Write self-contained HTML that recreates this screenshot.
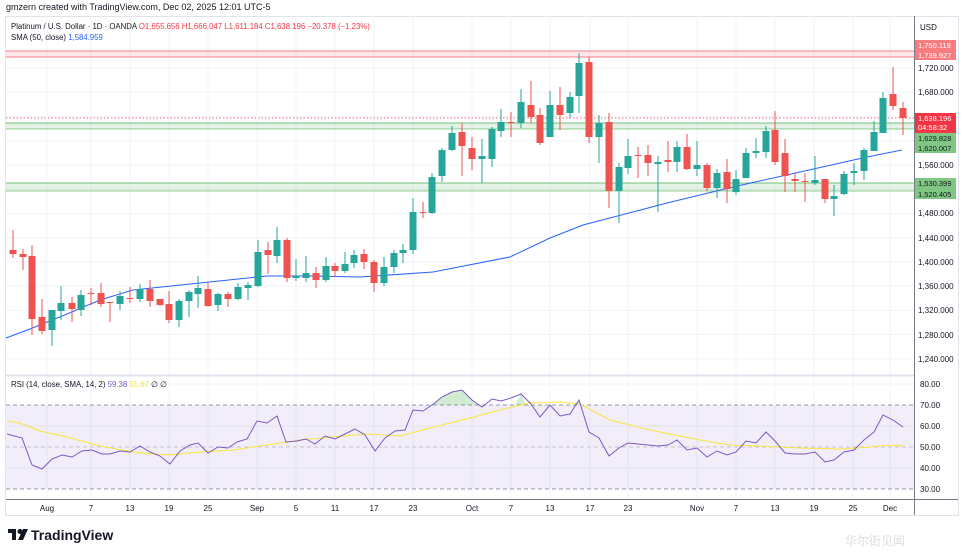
<!DOCTYPE html>
<html><head><meta charset="utf-8"><style>
body{margin:0;background:#fff;width:964px;height:556px;overflow:hidden;font-family:"Liberation Sans",sans-serif}
svg{position:absolute;left:0;top:0}
</style></head><body>
<svg id="s" width="964" height="556" viewBox="0 0 964 556" xmlns="http://www.w3.org/2000/svg" font-family="Liberation Sans, sans-serif">
<rect x="0" y="0" width="964" height="556" fill="#fff"/>
<text x="6" y="10" font-size="9" fill="#131722">gmzern created with TradingView.com, Dec 02, 2025 12:01 UTC-5</text>
<rect x="5.5" y="16.5" width="953" height="499" fill="none" stroke="#e0e3eb"/>
<g id="grid"></g>
<rect x="6" y="405" width="908" height="84" fill="#7e57c2" fill-opacity="0.1"/>
<g stroke="#787b86" stroke-dasharray="4,3" stroke-width="0.8">
<line x1="6" y1="405" x2="914" y2="405"/><line x1="6" y1="447" x2="914" y2="447" stroke-opacity="0.5"/><line x1="6" y1="489" x2="914" y2="489"/>
</g>
<rect x="6" y="51" width="908" height="6" fill="#f23645" fill-opacity="0.12"/>
<line x1="6" y1="51" x2="914" y2="51" stroke="#f23645" stroke-opacity="0.6"/>
<line x1="6" y1="57" x2="914" y2="57" stroke="#f23645" stroke-opacity="0.6"/>
<rect x="6" y="123" width="908" height="6" fill="#4caf50" fill-opacity="0.15"/>
<line x1="6" y1="123" x2="914" y2="123" stroke="#4caf50" stroke-opacity="0.6" stroke-width="1.2"/>
<line x1="6" y1="129" x2="914" y2="129" stroke="#4caf50" stroke-opacity="0.6"/>
<rect x="6" y="183" width="908" height="8" fill="#4caf50" fill-opacity="0.15"/>
<line x1="6" y1="183" x2="914" y2="183" stroke="#4caf50" stroke-opacity="0.6" stroke-width="1.2"/>
<line x1="6" y1="191" x2="914" y2="191" stroke="#4caf50" stroke-opacity="0.6"/>
<line x1="6" y1="118" x2="914" y2="118" stroke="#f23645" stroke-dasharray="1.5,2" stroke-width="0.8"/>
<polyline fill="none" stroke="#2962ff" stroke-width="1" points="6,338 30,329 67,314 100,300 133,290 200,283 267,276 310,276 360,277 433,272 510,257 550,238 583,225 610,218 667,203 733,187 800,172 867,157 902,150"/>
<g id="candles"></g>
<polygon fill="#4caf50" fill-opacity="0.25" points="432,405 442,397 452,392 462,390 472,400 477,405"/>
<polygon fill="#4caf50" fill-opacity="0.25" points="515,405 521,394 526,405"/>
<polygon fill="#4caf50" fill-opacity="0.25" points="574,405 579,400 581,405"/>
<polyline fill="none" stroke="#f7e63b" stroke-width="1" points="7,421 20,423 40,431 67,437 100,446 133,452 167,455 200,452 233,450 267,445 300,440 333,437 367,434 400,436 430,428 470,418 500,410 530,403 560,402 580,404 610,420 650,430 700,440 730,445 760,446 800,448 840,449 870,447 890,445 903,446"/>
<polyline fill="none" stroke="#7e57c2" stroke-width="1" points="7,434 22,438 32,465 42,469 52,459 62,455 72,457 82,451 92,450 102,454 110,454 120,451 130,452 140,446 150,452 160,456 170,464 180,451 190,445 198,443 208,453 218,447 228,448 237,442 247,439 257,421 267,423 277,416 286,442 297,441 306,439 315,444 325,436 335,439 345,434 355,429 365,435 375,451 385,438 395,431 405,430 413,410 423,411 432,405 442,397 452,392 462,390 472,400 482,407 492,399 501,401 511,398 521,394 531,404 540,417 550,405 560,416 570,414 579,400 589,432 599,438 609,456 619,448 628,443 638,444 648,445 658,446 668,445 677,440 687,450 697,448 707,457 717,451 727,455 736,452 746,441 756,443 766,432 775,441 785,453 795,454 805,454 815,452 825,462 834,460 844,452 854,450 864,440 874,432 883,415 893,420 903,427"/>
<line x1="6" y1="375.5" x2="914" y2="375.5" stroke="#e0e3eb" stroke-width="2"/>
<line x1="6" y1="499.5" x2="958" y2="499.5" stroke="#787b86" stroke-width="1"/>
<line x1="914.5" y1="16" x2="914.5" y2="515" stroke="#787b86" stroke-width="1"/>
<text x="11" y="29" font-size="7.8" fill="#131722">Platinum / U.S. Dollar · 1D · OANDA <tspan fill="#f23645">O1,655.656</tspan>  <tspan fill="#f23645">H1,666.047</tspan>  <tspan fill="#f23645">L1,611.184</tspan>  <tspan fill="#f23645">C1,638.196</tspan>  <tspan fill="#f23645">−20.378 (−1.23%)</tspan></text>
<text x="11" y="40" font-size="7.8" fill="#131722">SMA (50, close) <tspan fill="#2962ff">1,584.959</tspan></text>
<text x="11" y="387" font-size="7.8" fill="#131722">RSI (14, close, SMA, 14, 2) <tspan fill="#7e57c2">59.38</tspan> <tspan fill="#f7e63b">51.67</tspan> ∅ ∅</text>
<text x="920" y="30" font-size="8" fill="#131722">USD</text>
<g id="axis" font-size="8" fill="#131722"></g>
<g id="time" font-size="8" fill="#131722" text-anchor="middle"></g>
<g transform="translate(8,529)" fill="#131722">
<rect x="0" y="0" width="8" height="4"/><rect x="4" y="0" width="4" height="11"/>
<circle cx="12" cy="2.5" r="2.5"/><polygon points="15,0 20,0 15,11 10,11"/>
<text x="23" y="11" font-size="14" font-weight="bold">TradingView</text>
</g>
<text x="905" y="545" font-size="12" fill="#ddd" text-anchor="end">华尔街见闻</text>
</svg>
<script>
var NS="http://www.w3.org/2000/svg";
function el(p,t,a,txt){var e=document.createElementNS(NS,t);for(var k in a)e.setAttribute(k,a[k]);if(txt!=null)e.textContent=txt;document.getElementById(p).appendChild(e);return e;}
var vx=[47,91,130,169,208,257,296,335,374,413,472,511,550,590,628,697,736,775,814,853,890];
vx.forEach(function(x){el("grid","line",{x1:x,y1:16,x2:x,y2:499,stroke:"#f0f3fa"});});
[1720,1680,1640,1600,1560,1520,1480,1440,1400,1360,1320,1280,1240].forEach(function(p){var y=68+(1720-p)*0.606;el("grid","line",{x1:6,y1:y,x2:914,y2:y,stroke:"#f0f3fa"});});
[384,426,468].forEach(function(y){el("grid","line",{x1:6,y1:y,x2:914,y2:y,stroke:"#f0f3fa"});});
var C=[[13,250,254,230,258],[23,254,257,249,270],[32,256,319,245,335],[42,317,331,299,334],[52,330,310,310,346],[61,311,303,286,320],[72,303,309,297,322],[81,310,295,290,316],[91,293,294,288,305],[101,293,304,283,307],[110,302,303,302,322],[120,304,296,291,310],[130,298,299,287,303],[140,299,289,284,302],[150,289,301,280,307],[160,299,305,299,306],[169,304,320,291,323],[179,320,301,299,327],[189,301,292,290,317],[198,294,288,276,308],[208,289,306,283,307],[218,305,294,293,311],[228,294,299,292,307],[238,299,287,283,300],[248,288,285,282,300],[258,286,252,240,287],[268,250,255,242,274],[277,256,240,227,263],[287,240,278,238,282],[296,278,276,259,281],[306,278,273,256,282],[316,273,280,267,288],[326,280,266,257,282],[335,266,271,263,277],[345,271,264,252,273],[354,263,255,250,268],[364,254,262,249,269],[374,262,283,260,292],[384,283,267,257,286],[394,267,253,250,273],[403,253,250,244,263],[413,250,212,198,254],[423,212,213,202,218],[432,213,177,173,214],[442,176,150,148,182],[452,150,133,126,151],[462,132,146,123,176],[472,148,159,137,170],[482,159,156,139,183],[492,159,129,127,167],[501,131,122,109,137],[511,122,123,112,137],[521,123,102,89,128],[531,105,117,81,123],[540,115,143,108,145],[550,137,105,91,137],[560,105,115,87,130],[570,113,97,92,118],[579,96,63,53,113],[589,62,137,57,143],[599,137,123,115,163],[609,122,191,113,208],[619,191,167,163,223],[628,168,156,139,174],[638,155,156,147,178],[648,155,163,145,176],[658,164,162,156,212],[668,160,162,141,172],[677,162,147,141,172],[687,147,169,134,170],[697,169,165,141,176],[707,165,188,163,191],[717,188,173,169,198],[727,172,189,159,203],[736,192,179,170,195],[746,178,153,148,178],[756,153,151,138,158],[766,152,131,126,158],[775,130,162,111,165],[785,153,176,139,192],[795,179,181,173,192],[805,181,182,173,202],[815,183,180,156,185],[825,179,199,179,203],[834,199,196,185,216],[844,194,174,171,195],[854,173,171,163,185],[864,171,150,148,180],[874,151,132,121,151],[883,133,98,92,133],[893,94,106,67,110],[903,108,118,102,135]];
C.forEach(function(c){var red=c[2]>c[1];var col=red?"#ef5350":"#26a69a";
el("candles","line",{x1:c[0],y1:c[3],x2:c[0],y2:c[4],stroke:col,"stroke-width":1});
var t=Math.min(c[1],c[2]),h=Math.max(1,Math.abs(c[2]-c[1]));
el("candles","rect",{x:c[0]-3.5,y:t,width:7,height:h,fill:col});});
[[1720,68],[1680,92],[1560,165],[1480,213],[1440,238],[1400,262],[1360,286],[1320,310],[1280,335],[1240,359]].forEach(function(a){el("axis","text",{x:918,y:a[1]+3},a[0].toString().replace(/(\d)(\d{3})$/,"$1,$2")+".000");});
[[80,384],[70,405],[60,426],[50,447],[40,468],[30,489]].forEach(function(a){el("axis","text",{x:920,y:a[1]+3},a[0]+".00");});
function badge(y,h,col,t1,t2){el("axis","rect",{x:915,y:y,width:41,height:h,fill:col});el("axis","text",{x:918,y:y+8,fill:"#fff","font-size":"7.5"},t1);if(t2)el("axis","text",{x:918,y:y+17,fill:"#fff","font-size":"7.5"},t2);}
badge(40,10,"#f77c80","1,750.119");badge(50,10,"#f77c80","1,739.927");
badge(113,20,"#f23645","1,638.196","04:58:32");
badge(133,10,"#81c784");badge(143,10,"#81c784");
el("axis","text",{x:918,y:141,"font-size":"7.5"},"1,629.828");el("axis","text",{x:918,y:151,"font-size":"7.5"},"1,620.007");
badge(178,11,"#81c784");badge(189,10,"#81c784");
el("axis","text",{x:918,y:186,"font-size":"7.5"},"1,530.399");el("axis","text",{x:918,y:197,"font-size":"7.5"},"1,520.405");
var TL=[["Aug",47],["7",91],["13",130],["19",169],["25",208],["Sep",257],["5",296],["11",335],["17",374],["23",413],["Oct",472],["7",511],["13",550],["17",590],["23",628],["Nov",697],["7",736],["13",775],["19",814],["25",853],["Dec",890]];
TL.forEach(function(t){el("time","text",{x:t[1],y:511},t[0]);});
</script>
</body></html>
